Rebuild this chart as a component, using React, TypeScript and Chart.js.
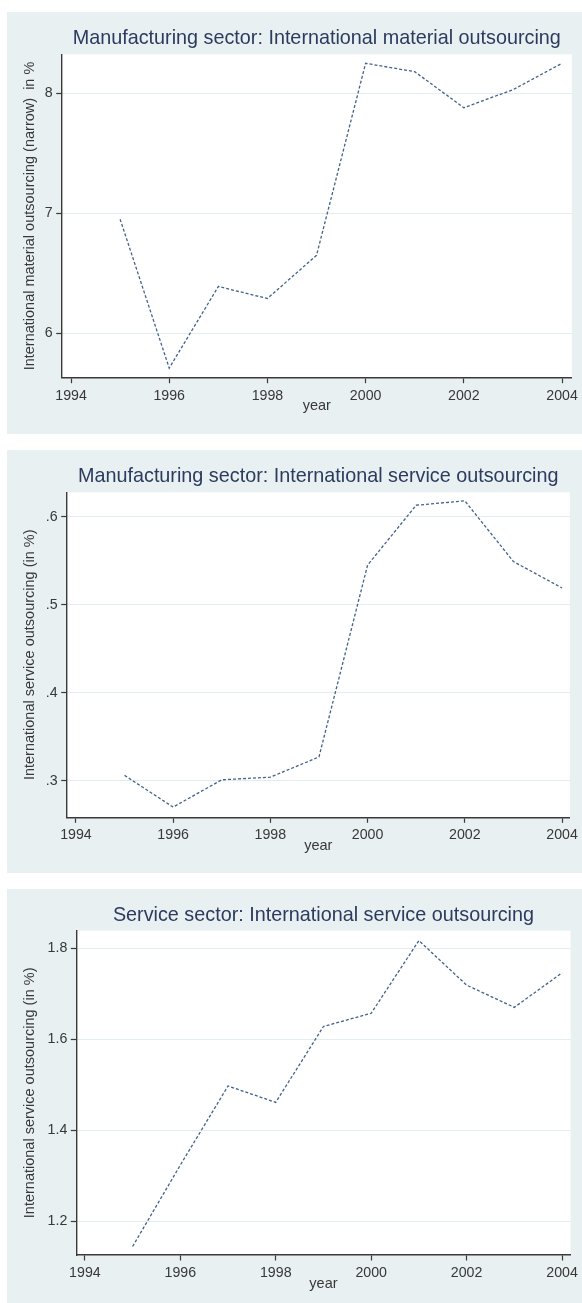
import React, { useEffect, useRef } from 'react';
import { Chart, registerables } from 'chart.js';

Chart.register(...registerables);

// ---- data ----
const years = [1995, 1996, 1997, 1998, 1999, 2000, 2001, 2002, 2003, 2004];
const xTicks = [1994, 1996, 1998, 2000, 2002, 2004];

const mfgMaterialOutsourcing = [6.95, 5.71, 6.39, 6.29, 6.65, 8.25, 8.18, 7.88, 8.03, 8.25];
const mfgServiceOutsourcing = [0.306, 0.27, 0.301, 0.304, 0.327, 0.545, 0.613, 0.618, 0.549, 0.519];
const svcServiceOutsourcing = [1.144, 1.323, 1.497, 1.461, 1.628, 1.657, 1.817, 1.719, 1.67, 1.746];

const yTicks1 = [6, 7, 8];
const yLabels1 = ['6', '7', '8'];
const yTicks2 = [0.3, 0.4, 0.5, 0.6];
const yLabels2 = ['.3', '.4', '.5', '.6'];
const yTicks3 = [1.2, 1.4, 1.6, 1.8];
const yLabels3 = ['1.2', '1.4', '1.6', '1.8'];

const titles = [
  'Manufacturing sector: International material outsourcing',
  'Manufacturing sector: International service outsourcing',
  'Service sector: International service outsourcing',
];
const yTitles = [
  'International material outsourcing (narrow)  in %',
  'International service outsourcing (in %)',
  'International service outsourcing (in %)',
];
const xTitle = 'year';

// ---- style ----
const FONT = "'Liberation Sans', Arial, Helvetica, sans-serif";
const BG = '#e8f0f2';
const GRID = '#e2edef';
const AXIS = '#3a3a3a';
const LINE = '#42628a';
const TITLE_COLOR = '#2c3b5e';
const TEXT = '#383838';

const plotBg = {
  id: 'plotBg',
  beforeDraw(chart: any) {
    const { ctx, chartArea } = chart;
    if (!chartArea) return;
    ctx.save();
    ctx.fillStyle = '#ffffff';
    ctx.fillRect(chartArea.left, chartArea.top, chartArea.right - chartArea.left, chartArea.bottom - chartArea.top);
    ctx.restore();
  },
};

type PanelProps = {
  top: number;
  height: number;
  title: string;
  yTitle: string;
  values: number[];
  yTicks: number[];
  yLabels: string[];
  yMin: number;
  yMax: number;
  xMin: number;
  xMax: number;
  plotLeft: number;
  plotRight: number;
  plotTop: number;
  plotBottom: number;
  yearPad: number;
};

const WIDTH = 575;

function Panel(p: PanelProps) {
  const ref = useRef<HTMLCanvasElement | null>(null);
  useEffect(() => {
    if (!ref.current) return;
    const titleFont = 19.8;
    const titleLH = titleFont * 1.2;
    const titlePadTop = 15;
    const titlePadBottom = p.plotTop - titlePadTop - titleLH;
    const chart = new Chart(ref.current, {
      type: 'line',
      data: {
        datasets: [
          {
            data: years.map((y, i) => ({ x: y, y: p.values[i] })),
            borderColor: LINE,
            borderWidth: 1.3,
            borderDash: [3, 2],
            pointRadius: 0,
            tension: 0,
            fill: false,
          },
        ],
      },
      options: {
        animation: false,
        responsive: false,
        devicePixelRatio: 1,
        layout: { padding: { left: 0, top: 0, bottom: 0, right: WIDTH - p.plotRight } },
        plugins: {
          legend: { display: false },
          tooltip: { enabled: false },
          title: {
            display: true,
            text: p.title,
            fullSize: false,
            color: TITLE_COLOR,
            font: { family: FONT, size: titleFont, weight: 'normal', lineHeight: 1.2 },
            padding: { top: titlePadTop, bottom: titlePadBottom },
          },
        },
        scales: {
          x: {
            type: 'linear',
            min: p.xMin,
            max: p.xMax,
            afterBuildTicks: (scale: any) => {
              scale.ticks = xTicks.map((v) => ({ value: v }));
            },
            afterFit: (scale: any) => {
              scale.height = p.height - p.plotBottom;
            },
            ticks: {
              color: TEXT,
              font: { family: FONT, size: 14.2, lineHeight: 1.2 },
              padding: 4,
              maxRotation: 0,
              autoSkip: false,
              callback: (v: any) => String(v),
            },
            grid: {
              drawOnChartArea: false,
              drawTicks: true,
              tickLength: 5.5,
              tickColor: AXIS,
              tickWidth: 1.2,
              color: 'rgba(0,0,0,0)',
            },
            border: { display: true, color: AXIS, width: 1.4 },
            title: {
              display: true,
              text: xTitle,
              color: TEXT,
              font: { family: FONT, size: 14.5, lineHeight: 1.2 },
              padding: { top: 0, bottom: p.yearPad },
            },
          },
          y: {
            type: 'linear',
            min: p.yMin,
            max: p.yMax,
            afterBuildTicks: (scale: any) => {
              scale.ticks = p.yTicks.map((v) => ({ value: v }));
            },
            afterFit: (scale: any) => {
              scale.width = p.plotLeft;
            },
            ticks: {
              color: TEXT,
              font: { family: FONT, size: 14.2, lineHeight: 1.2 },
              padding: 3.5,
              callback: (v: any) => {
                const i = p.yTicks.findIndex((t) => Math.abs(t - v) < 1e-9);
                return i >= 0 ? p.yLabels[i] : '';
              },
            },
            grid: {
              drawOnChartArea: true,
              drawTicks: true,
              tickLength: 5.5,
              tickColor: AXIS,
              tickWidth: 1.2,
              color: GRID,
              lineWidth: 1,
            },
            border: { display: true, color: AXIS, width: 1.4 },
            title: {
              display: true,
              text: p.yTitle,
              color: TEXT,
              font: { family: FONT, size: 14.5, lineHeight: 1.2 },
              padding: { top: 14.5, bottom: 0 },
            },
          },
        },
      } as any,
      plugins: [plotBg],
    });
    return () => chart.destroy();
  }, []);
  return (
    <canvas
      ref={ref}
      width={WIDTH}
      height={p.height}
      style={{
        position: 'absolute',
        left: 7,
        top: p.top,
        width: WIDTH,
        height: p.height,
        background: BG,
        display: 'block',
      }}
    />
  );
}

export default function App() {
  return (
    <div style={{ position: 'absolute', left: 0, top: 0, width: 582, height: 1303, background: '#ffffff' }}>
      <Panel
        top={12}
        height={422}
        title={titles[0]}
        yTitle={yTitles[0]}
        values={mfgMaterialOutsourcing}
        yTicks={yTicks1}
        yLabels={yLabels1}
        yMin={5.63}
        yMax={8.325}
        xMin={1993.81}
        xMax={2004.2}
        plotLeft={54.7}
        plotRight={566.3}
        plotTop={42.3}
        plotBottom={365.7}
        yearPad={19.7}
      />
      <Panel
        top={450}
        height={423}
        title={titles[1]}
        yTitle={yTitles[1]}
        values={mfgServiceOutsourcing}
        yTicks={yTicks2}
        yLabels={yLabels2}
        yMin={0.2584}
        yMax={0.6277}
        xMin={1993.81}
        xMax={2004.16}
        plotLeft={59.7}
        plotRight={565.7}
        plotTop={42.3}
        plotBottom={367.3}
        yearPad={18.7}
      />
      <Panel
        top={889}
        height={414}
        title={titles[2]}
        yTitle={yTitles[2]}
        values={svcServiceOutsourcing}
        yTicks={yTicks3}
        yLabels={yLabels3}
        yMin={1.1252}
        yMax={1.8387}
        xMin={1993.82}
        xMax={2004.18}
        plotLeft={69.3}
        plotRight={565.7}
        plotTop={41.7}
        plotBottom={366}
        yearPad={10.2}
      />
    </div>
  );
}
